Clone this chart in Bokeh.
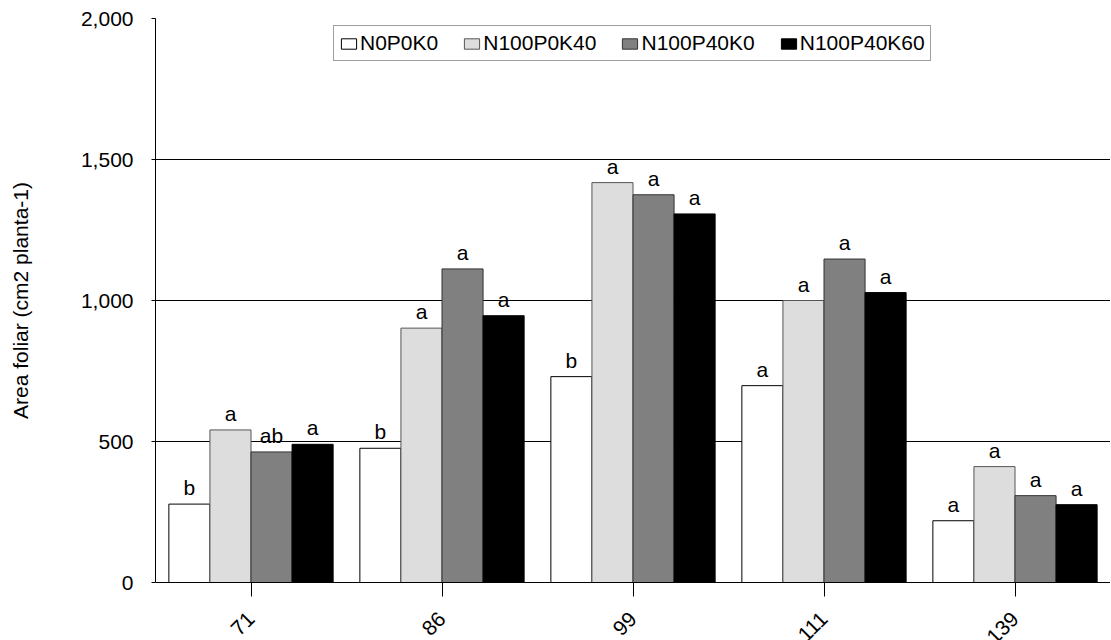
import math
from bokeh.plotting import figure
from bokeh.models import (Range1d, FixedTicker, NumeralTickFormatter, Legend, LegendItem,
                          ColumnDataSource, LabelSet)
from bokeh.core.properties import value
from bokeh.embed import file_html
from bokeh.resources import INLINE

# ---- data ----
categories = ["71", "86", "99", "111", "139"]
series_names = ["N0P0K0", "N100P0K40", "N100P40K0", "N100P40K60"]
n0p0k0 = [278, 476, 730, 698, 219]
n100p0k40 = [541, 902, 1418, 1000, 411]
n100p40k0 = [463, 1112, 1375, 1147, 308]
n100p40k60 = [490, 946, 1307, 1028, 276]
letters_n0p0k0 = ["b", "b", "b", "a", "a"]
letters_n100p0k40 = ["a", "a", "a", "a", "a"]
letters_n100p40k0 = ["ab", "a", "a", "a", "a"]
letters_n100p40k60 = ["a", "a", "a", "a", "a"]
y_ticks = [0, 500, 1000, 1500, 2000]

series_values = [n0p0k0, n100p0k40, n100p40k0, n100p40k60]
series_letters = [letters_n0p0k0, letters_n100p0k40, letters_n100p40k0, letters_n100p40k60]
series_colors = ["#ffffff", "#dddddd", "#808080", "#000000"]
series_lines = ["#000000", "#555555", "#333333", "#000000"]

FONT = "Liberation Sans"
FS = "21px"

frame_w, frame_h = 955, 564
bar_w = 0.215

p = figure(frame_width=frame_w, frame_height=frame_h,
           min_border_left=155, min_border_right=0, min_border_top=18, min_border_bottom=0,
           x_range=Range1d(0, len(categories)), y_range=Range1d(0, 2000),
           output_backend="svg", toolbar_location=None,
           background_fill_color="white", border_fill_color="white")
p.outline_line_color = None

renderers = []
for k, (vals, lets, col, lc) in enumerate(zip(series_values, series_letters, series_colors, series_lines)):
    off = (k - 1.5) * bar_w
    xs = [i + 0.5 + off for i in range(len(categories))]
    src = ColumnDataSource(dict(x=xs, top=vals, lab=lets))
    r = p.vbar(x="x", top="top", width=bar_w, bottom=0, source=src,
               fill_color=col, line_color=lc, line_width=1)
    renderers.append(r)
    p.add_layout(LabelSet(x="x", y="top", text="lab", source=src,
                          text_align="center", text_baseline="alphabetic",
                          y_offset=9, text_font=value(FONT), text_font_size=value(FS),
                          text_color="#000000"))

# axes
xa = p.xaxis[0]
xa.ticker = FixedTicker(ticks=[i + 0.5 for i in range(len(categories))])
xa.major_label_overrides = {i + 0.5: c for i, c in enumerate(categories)}
xa.major_label_orientation = math.pi / 4
xa.major_label_text_font = FONT
xa.major_label_text_font_size = FS
xa.major_label_text_color = "#000000"
xa.major_label_standoff = 19
xa.major_tick_out = 14
xa.major_tick_in = 0
xa.minor_tick_line_color = None
xa.axis_line_color = "#000000"
xa.major_tick_line_color = "#000000"

ya = p.yaxis[0]
ya.ticker = FixedTicker(ticks=y_ticks)
ya.formatter = NumeralTickFormatter(format="0,0")
ya.major_tick_out = 4
ya.major_tick_in = 0
ya.minor_tick_line_color = None
ya.axis_line_color = "#000000"
ya.major_tick_line_color = "#000000"
ya.major_label_standoff = 18
ya.major_label_text_font = FONT
ya.major_label_text_font_size = FS
ya.major_label_text_color = "#000000"
ya.axis_label = "Area foliar (cm2 planta-1)"
ya.axis_label_text_font = FONT
ya.axis_label_text_font_size = FS
ya.axis_label_text_font_style = "normal"
ya.axis_label_text_color = "#000000"
ya.axis_label_standoff = 46

p.xgrid.grid_line_color = None
p.ygrid.ticker = FixedTicker(ticks=y_ticks)
p.ygrid.grid_line_color = "#000000"
p.ygrid.grid_line_width = 1

legend = Legend(items=[LegendItem(label=n, renderers=[r]) for n, r in zip(series_names, renderers)],
                orientation="horizontal", location=(178, 521),
                glyph_width=19, glyph_height=13, label_standoff=2, spacing=24,
                padding=5, margin=0, label_height=18,
                label_text_font=FONT, label_text_font_size=FS, label_text_color="#000000",
                border_line_color="#404040", border_line_width=1,
                background_fill_color="white", background_fill_alpha=1)
p.add_layout(legend)

open("out.html", "w").write(file_html(p, INLINE))
